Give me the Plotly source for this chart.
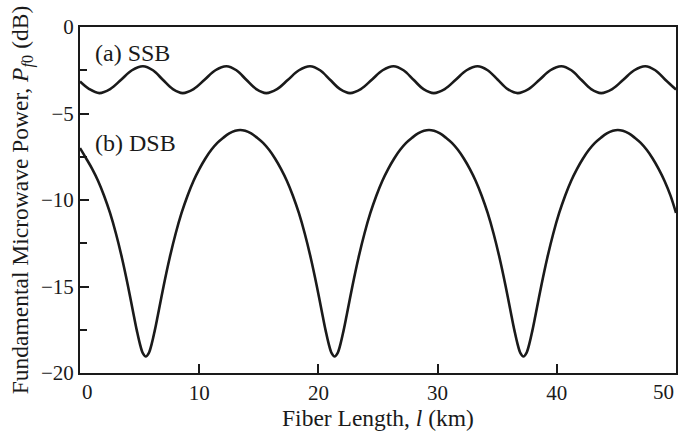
import plotly.graph_objects as go

# SSB curve
ssb_x = [0, 0.78,
         1.62, 2.53, 3.45, 4.36, 5.28, 6.12, 6.95, 7.79,
         8.62, 9.53, 10.45, 11.36, 12.28, 13.12, 13.95, 14.79,
         15.62, 16.53, 17.45, 18.37, 19.3, 20.14, 20.98, 21.82,
         22.65, 23.56, 24.48, 25.39, 26.3, 27.14, 27.98, 28.82,
         29.68, 30.6, 31.52, 32.43, 33.35, 34.2, 35.05, 35.88,
         36.72, 37.63, 38.55, 39.46, 40.38, 41.22, 42.05, 42.88,
         43.72, 44.65, 45.58, 46.5, 47.42, 48.26, 49.1, 50]
ssb_y = [-3.15, -3.59,
         -3.82, -3.59, -3.05, -2.5, -2.27, -2.5, -3.05, -3.59,
         -3.82, -3.59, -3.05, -2.5, -2.27, -2.5, -3.05, -3.59,
         -3.82, -3.59, -3.05, -2.5, -2.27, -2.5, -3.05, -3.59,
         -3.82, -3.59, -3.05, -2.5, -2.27, -2.5, -3.05, -3.59,
         -3.82, -3.59, -3.05, -2.5, -2.27, -2.5, -3.05, -3.59,
         -3.82, -3.59, -3.05, -2.5, -2.27, -2.5, -3.05, -3.59,
         -3.82, -3.59, -3.05, -2.5, -2.27, -2.5, -3.05, -3.62]

# DSB curve
dsb_x = [0, 0.52, 1.02, 1.52, 2.02, 2.52, 3.02, 3.52, 4.02, 4.52, 4.77, 5.02, 5.27, 5.52,
         5.77, 6.02, 6.27, 6.52, 7.02, 7.52, 8.02, 8.52, 9.02, 9.52, 10.02, 10.52, 11.02,
         11.52, 12.02, 12.52, 13.02, 13.44, 13.86, 14.36, 14.86, 15.36, 15.86, 16.36, 16.86,
         17.36, 17.86, 18.36, 18.86, 19.36, 19.86, 20.36, 20.61, 20.86, 21.11, 21.36, 21.61,
         21.86, 22.11, 22.36, 22.86, 23.36, 23.86, 24.36, 24.86, 25.36, 25.86, 26.36, 26.86,
         27.36, 27.86, 28.36, 28.86, 29.28, 29.7, 30.2, 30.7, 31.2, 31.7, 32.2, 32.7, 33.2,
         33.7, 34.2, 34.7, 35.2, 35.7, 36.2, 36.45, 36.7, 36.95, 37.2, 37.45, 37.7, 37.95,
         38.2, 38.7, 39.2, 39.7, 40.2, 40.7, 41.2, 41.7, 42.2, 42.7, 43.2, 43.7, 44.2, 44.7,
         45.12, 45.54, 46.04, 46.54, 47.04, 47.54, 48.04, 48.54, 49.04, 49.54, 50]
dsb_y = [-7.0, -7.6, -8.2, -8.9, -9.75, -10.75, -11.95, -13.35, -14.95, -16.7, -17.55, -18.3, -18.85, -19.05,
         -18.85, -18.3, -17.55, -16.7, -14.95, -13.35, -11.95, -10.75, -9.75, -8.9, -8.2, -7.6, -7.1,
         -6.7, -6.4, -6.15, -6.0, -5.95, -6.0, -6.15, -6.4, -6.7, -7.1, -7.6, -8.2,
         -8.9, -9.75, -10.75, -11.95, -13.35, -14.95, -16.7, -17.55, -18.3, -18.85, -19.05, -18.85,
         -18.3, -17.55, -16.7, -14.95, -13.35, -11.95, -10.75, -9.75, -8.9, -8.2, -7.6, -7.1,
         -6.7, -6.4, -6.15, -6.0, -5.95, -6.0, -6.15, -6.4, -6.7, -7.1, -7.6, -8.2, -8.9,
         -9.75, -10.75, -11.95, -13.35, -14.95, -16.7, -17.55, -18.3, -18.85, -19.05, -18.85, -18.3, -17.55,
         -16.7, -14.95, -13.35, -11.95, -10.75, -9.75, -8.9, -8.2, -7.6, -7.1, -6.7, -6.4, -6.15, -6.0,
         -5.95, -6.0, -6.15, -6.4, -6.7, -7.1, -7.6, -8.2, -8.9, -9.75, -10.75]

x_inner_ticks = [10, 20, 30, 40]
x_end_ticks = [0, 50]
y_ticks = [0, -5, -10, -15, -20]
y_tick_text = ["0", "\u22125", "\u221210", "\u221215", "\u221220"]
y_minor = [-2.5, -7.5, -12.5, -17.5]
labels = ["(a) SSB", "(b) DSB"]
label_pos = [(1.1, -1.5), (1.1, -6.7)]

FONT = "Liberation Serif, Times New Roman, serif"
INK = "#1a1a1a"
line_style = dict(color=INK, width=2.6, shape="spline", smoothing=1.0)

fig = go.Figure()
fig.add_trace(go.Scatter(x=ssb_x, y=ssb_y, mode="lines", line=line_style, showlegend=False))
fig.add_trace(go.Scatter(x=dsb_x, y=dsb_y, mode="lines", line=line_style, showlegend=False))

for txt, (lx, ly) in zip(labels, label_pos):
    fig.add_annotation(x=lx, y=ly, text=txt, showarrow=False, xanchor="left", yanchor="middle",
                       font=dict(family=FONT, size=24, color=INK))

# end x tick labels are pulled inside the frame, as in the reference
for v, anchor in zip(x_end_ticks, ("left", "right")):
    fig.add_annotation(x=v, xref="x", y=0, yref="paper", yshift=-5, text=str(v),
                       showarrow=False, xanchor=anchor, yanchor="top",
                       font=dict(family=FONT, size=21, color=INK))

axis_common = dict(showgrid=False, zeroline=False, showline=True, linecolor=INK,
                   linewidth=2, mirror=True, ticks="inside", tickcolor=INK,
                   tickwidth=1.5, ticklen=9,
                   tickfont=dict(family=FONT, size=21, color=INK))

fig.update_xaxes(range=[0, 50], tickvals=x_inner_ticks, ticktext=[str(v) for v in x_inner_ticks],
                 title=dict(text="Fiber Length, <i>l</i> (km)", standoff=2,
                            font=dict(family=FONT, size=23.5, color=INK)),
                 **axis_common)
fig.update_yaxes(range=[-20, 0], tickvals=y_ticks, ticktext=y_tick_text,
                 minor=dict(ticks="inside", tickvals=y_minor, ticklen=7,
                            tickcolor=INK, tickwidth=1.5),
                 title=dict(text="Fundamental Microwave Power, <i>P</i><sub><i>f</i>0</sub> (dB)",
                            standoff=6, font=dict(family=FONT, size=23.5, color=INK)),
                 **axis_common)

fig.update_layout(width=685, height=434, margin=dict(l=80, r=7, t=27, b=61),
                  paper_bgcolor="white", plot_bgcolor="white")

fig.write_html("out.html", config={"displayModeBar": False},
               post_script="document.body.style.margin='0';")
